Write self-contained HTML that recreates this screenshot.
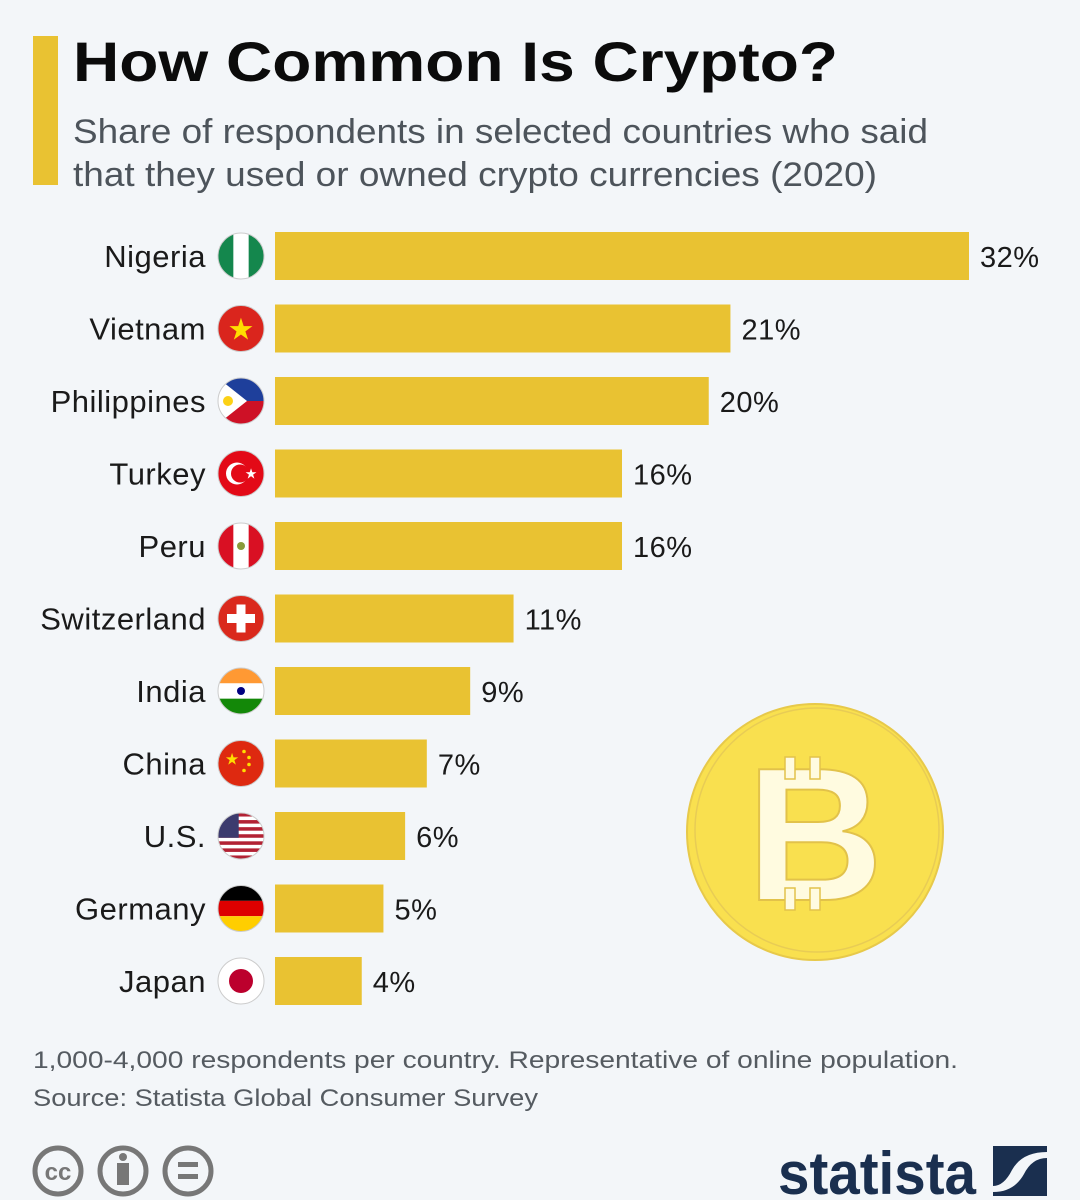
<!DOCTYPE html>
<html><head><meta charset="utf-8"><style>
html,body{margin:0;padding:0;background:#f3f6f9;}
svg{display:block;font-family:"Liberation Sans",sans-serif;}
</style></head><body>
<svg id="chart" width="1080" height="1200" viewBox="0 0 1080 1200">
<rect width="1080" height="1200" fill="#f3f6f9"/>
<rect x="33" y="36" width="25" height="149" fill="#e9c232"/>
<text x="73" y="81" font-size="56" font-weight="bold" fill="#0b0b0b" textLength="765" lengthAdjust="spacingAndGlyphs">How Common Is Crypto?</text>
<text x="73" y="143" font-size="34" fill="#4d545b" textLength="855" lengthAdjust="spacingAndGlyphs">Share of respondents in selected countries who said</text>
<text x="73" y="186" font-size="34" fill="#4d545b" textLength="804" lengthAdjust="spacingAndGlyphs">that they used or owned crypto currencies (2020)</text>
<g id="flags"></g>
<g id="bars"></g>
<g>
<circle cx="815" cy="832" r="128" fill="#f9e04f" stroke="#e7c94a" stroke-width="2"/>
<circle cx="817" cy="830" r="122" fill="none" stroke="#e8cc55" stroke-width="1.5"/>
<text x="815" y="900" text-anchor="middle" font-size="190" font-weight="bold" fill="#fffbe0" stroke="#e2c24a" stroke-width="2">B</text>
<rect x="785" y="757" width="10" height="22" fill="#fffbe0" stroke="#e2c24a" stroke-width="1.5"/>
<rect x="810" y="757" width="10" height="22" fill="#fffbe0" stroke="#e2c24a" stroke-width="1.5"/>
<rect x="785" y="888" width="10" height="22" fill="#fffbe0" stroke="#e2c24a" stroke-width="1.5"/>
<rect x="810" y="888" width="10" height="22" fill="#fffbe0" stroke="#e2c24a" stroke-width="1.5"/>
</g>
<text x="33" y="1068" font-size="24" fill="#555b61" textLength="925" lengthAdjust="spacingAndGlyphs">1,000-4,000 respondents per country. Representative of online population.</text>
<text x="33" y="1106" font-size="24" fill="#555b61" textLength="505" lengthAdjust="spacingAndGlyphs">Source: Statista Global Consumer Survey</text>
<g fill="none" stroke="#777" stroke-width="5">
<circle cx="58" cy="1171" r="23"/>
<circle cx="123" cy="1171" r="23"/>
<circle cx="188" cy="1171" r="23"/>
<text x="58" y="1180" text-anchor="middle" font-size="24" font-weight="bold" fill="#777" stroke="none">cc</text>
<circle cx="123" cy="1157" r="4" fill="#777" stroke="none"/>
<rect x="117" y="1163" width="12" height="22" fill="#777" stroke="none"/>
<rect x="178" y="1162" width="20" height="5" fill="#777" stroke="none"/>
<rect x="178" y="1174" width="20" height="5" fill="#777" stroke="none"/>
</g>
<g>
<text x="778" y="1194" font-size="60" font-weight="bold" fill="#1a2f4f" textLength="198" lengthAdjust="spacingAndGlyphs">statista</text>
<path d="M993 1146 L1047 1146 L1047 1152 Q1022 1152 1012 1170 Q1004 1186 993 1186 Z" fill="#1a2f4f"/>
<path d="M1047 1158 L1047 1196 L993 1196 L993 1192 Q1014 1192 1024 1174 Q1032 1158 1047 1158 Z" fill="#1a2f4f"/>
</g>
</svg>
<script>
const countries=["Nigeria","Vietnam","Philippines","Turkey","Peru","Switzerland","India","China","U.S.","Germany","Japan"];
const values=[32,21,20,16,16,11,9,7,6,5,4];
const valueLabels=["32%","21%","20%","16%","16%","11%","9%","7%","6%","5%","4%"];
const NS="http://www.w3.org/2000/svg";
const x0=275, pxPer=(969-275)/32;
function xScale(v){return x0+v*pxPer;}
function yScale(i){return 256+i*72.5;}
function mk(tag,attrs,parent){const e=document.createElementNS(NS,tag);for(const k in attrs)e.setAttribute(k,attrs[k]);parent.appendChild(e);return e;}
const bars=document.getElementById('bars');
const flags=document.getElementById('flags');
const cx=241,r=23;
function flag(i,name){
  const cy=yScale(i);
  const g=mk('g',{},flags);
  
  
  const id='clip'+i;
  const cp=mk('clipPath',{id:id},g);mk('circle',{cx:cx,cy:cy,r:r},cp);
  const c=mk('g',{'clip-path':'url(#'+id+')'},g);
  const L=cx-r,T=cy-r,W=2*r;
  const R=(x,y,w,h,f)=>mk('rect',{x:x,y:y,width:w,height:h,fill:f},c);
  switch(name){
    case"Nigeria":R(L,T,W,W,'#fff');R(L,T,W/3,W,'#14874d');R(L+2*W/3,T,W/3,W,'#14874d');break;
    case"Vietnam":R(L,T,W,W,'#da251d');mk('text',{x:cx,y:cy+11,'text-anchor':'middle','font-size':30,fill:'#ffde00'},c).textContent='★';break;
    case"Philippines":R(L,T,W,W/2,'#1e3f9b');R(L,cy,W,W/2,'#ce1126');mk('polygon',{points:`${L},${T} ${cx+6},${cy} ${L},${T+W}`,fill:'#fff'},c);mk('circle',{cx:L+10,cy:cy,r:5,fill:'#fcd116'},c);break;
    case"Turkey":R(L,T,W,W,'#e30a17');mk('circle',{cx:cx-4,cy:cy,r:11,fill:'#fff'},c);mk('circle',{cx:cx-1,cy:cy,r:9,fill:'#e30a17'},c);mk('text',{x:cx+10,y:cy+5,'text-anchor':'middle','font-size':14,fill:'#fff'},c).textContent='★';break;
    case"Peru":R(L,T,W,W,'#fff');R(L,T,W/3,W,'#d91023');R(L+2*W/3,T,W/3,W,'#d91023');mk('circle',{cx:cx,cy:cy,r:4,fill:'#8a9a3a'},c);break;
    case"Switzerland":R(L,T,W,W,'#da291c');R(cx-4.5,cy-14,9,28,'#fff');R(cx-14,cy-4.5,28,9,'#fff');break;
    case"India":R(L,T,W,W/3,'#ff9933');R(L,T+W/3,W,W/3,'#fff');R(L,T+2*W/3,W,W/3,'#138808');mk('circle',{cx:cx,cy:cy,r:4,fill:'#000080'},c);break;
    case"China":R(L,T,W,W,'#de2910');mk('text',{x:cx-9,y:cy+1,'text-anchor':'middle','font-size':16,fill:'#ffde00'},c).textContent='★';[[3,-12],[8,-6],[8,1],[3,7]].forEach(p=>mk('circle',{cx:cx+p[0],cy:cy+p[1],r:1.8,fill:'#ffde00'},c));break;
    case"U.S.":R(L,T,W,W,'#fff');for(let k=0;k<7;k++)R(L,T+k*2*W/13,W,W/13,'#b22234');R(L,T,W*0.45,W*7/13,'#3c3b6e');break;
    case"Germany":R(L,T,W,W/3,'#000');R(L,T+W/3,W,W/3,'#dd0000');R(L,T+2*W/3,W,W/3,'#ffce00');break;
    case"Japan":R(L,T,W,W,'#fff');mk('circle',{cx:cx,cy:cy,r:12,fill:'#bc002d'},c);break;
  }
  mk('circle',{cx:cx,cy:cy,r:r,fill:'none',stroke:'#ccc','stroke-width':1},g);
}
countries.forEach((name,i)=>{
  const y=yScale(i);
  const lab=mk('text',{x:206,y:y+11,'text-anchor':'end','font-size':31,'letter-spacing':'0.5',fill:'#1a1a1a'},bars);
  lab.textContent=name;
  
  
  flag(i,name);
  const b=mk('rect',{x:x0,y:y-24,width:xScale(values[i])-x0,height:48,fill:'#e9c232'},bars);
  
  
  const v=mk('text',{x:xScale(values[i])+11,y:y+11,'font-size':29,'letter-spacing':'0.5',fill:'#1a1a1a'},bars);
  v.textContent=valueLabels[i];
  
  
});
</script>
</body></html>
